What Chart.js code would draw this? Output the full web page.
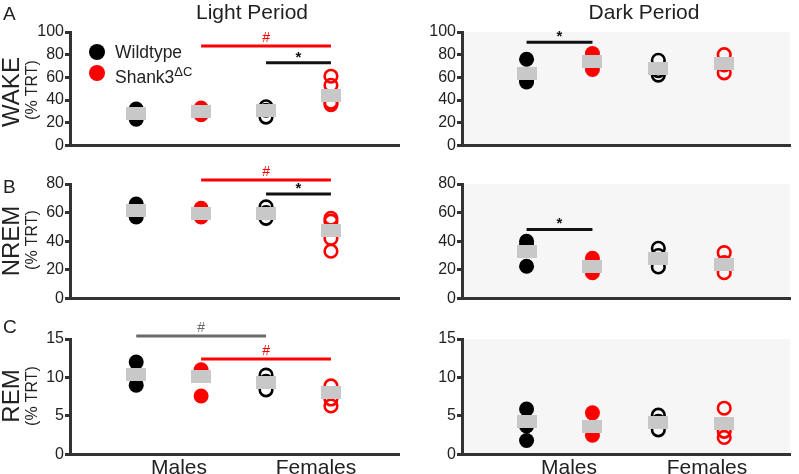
<!DOCTYPE html>
<html>
<head>
<meta charset="utf-8">
<script src="https://cdn.jsdelivr.net/npm/chart.js"></script>
<style>
  body { margin: 0; background: #fff; font-family: "Liberation Sans", Arial, sans-serif; color: #222; }
  #page { position: relative; width: 799px; height: 474px; overflow: hidden; }
  canvas { position: absolute; }
  .txt { position: absolute; white-space: nowrap; line-height: 1; }
  .rot { transform: translate(-50%, -50%) rotate(-90deg); }
  .dot { position: absolute; width: 16px; height: 16px; border-radius: 50%; }
</style>
</head>
<body>
<div id="page">
  <canvas id="lightWake" width="408" height="156" style="left:0;top:0"></canvas>
  <canvas id="darkWake" width="399" height="156" style="left:400px;top:0"></canvas>
  <canvas id="lightNrem" width="408" height="159" style="left:0;top:150px"></canvas>
  <canvas id="darkNrem" width="399" height="159" style="left:400px;top:150px"></canvas>
  <canvas id="lightRem" width="408" height="165" style="left:0;top:300px"></canvas>
  <canvas id="darkRem" width="399" height="165" style="left:400px;top:300px"></canvas>

  <div class="txt" style="left:252px;top:11px;font-size:21px;transform:translate(-50%,-50%)">Light Period</div>
  <div class="txt" style="left:644px;top:11px;font-size:21px;transform:translate(-50%,-50%)">Dark Period</div>

  <div class="txt" style="left:3px;top:4px;font-size:19px">A</div>
  <div class="txt" style="left:3px;top:177px;font-size:19px">B</div>
  <div class="txt" style="left:3px;top:317px;font-size:19px">C</div>

  <div class="txt rot" style="left:11px;top:92px;font-size:24px">WAKE</div>
  <div class="txt rot" style="left:32px;top:90px;font-size:16px">(% TRT)</div>
  <div class="txt rot" style="left:11px;top:241px;font-size:24px">NREM</div>
  <div class="txt rot" style="left:32px;top:240px;font-size:16px">(% TRT)</div>
  <div class="txt rot" style="left:11px;top:396px;font-size:24px">REM</div>
  <div class="txt rot" style="left:32px;top:396px;font-size:16px">(% TRT)</div>

  <div class="dot" style="left:89px;top:44px;background:#000"></div>
  <div class="txt" style="left:115px;top:44px;font-size:17.5px">Wildtype</div>
  <div class="dot" style="left:89px;top:65px;background:#ff0000"></div>
  <div class="txt" style="left:115px;top:65px;font-size:17.5px">Shank3<sup style="font-size:13px;vertical-align:7px">ΔC</sup></div>

  <div class="txt" style="left:179px;top:466px;font-size:21px;transform:translate(-50%,-50%)">Males</div>
  <div class="txt" style="left:316px;top:466px;font-size:21px;transform:translate(-50%,-50%)">Females</div>
  <div class="txt" style="left:569px;top:466px;font-size:21px;transform:translate(-50%,-50%)">Males</div>
  <div class="txt" style="left:707px;top:466px;font-size:21px;transform:translate(-50%,-50%)">Females</div>
</div>

<script>
// groups along x: male WT, male Shank3, female WT, female Shank3
const groupX = [1, 2, 3, 4];
const groupSex = ['M', 'M', 'F', 'F'];
const groupGeno = ['wt', 'mut', 'wt', 'mut'];

// individual animals, % of total recording time
const lightWake = [[32, 28, 23], [33, 30, 27], [34, 31, 25], [61, 53, 38, 36]];
const lightWakeMean = [28, 29.8, 30.5, 44];
const darkWake = [[76, 58, 56], [81, 74, 67], [75, 66, 62], [80, 71, 64]];
const darkWakeMean = [63, 73.7, 67.9, 72];

const lightNrem = [[66, 61, 57], [63, 60, 57], [64, 60, 56], [56, 54, 42, 33]];
const lightNremMean = [61.4, 59.6, 59.6, 47.7];
const darkNrem = [[40, 37, 22.5], [28, 22, 18], [35, 30, 22], [32, 25, 18]];
const darkNremMean = [32.8, 22.5, 28, 24];

const lightRem = [[12, 10.2, 9.0], [11, 10.3, 7.6], [10.3, 9.5, 8.4], [8.9, 7.2, 6.3]];
const lightRemMean = [10.4, 10.1, 9.4, 8.0];
const darkRem = [[5.9, 3.7, 1.8], [5.4, 3.2, 2.5], [5.1, 4.3, 3.2], [6.0, 3.0, 2.2]];
const darkRemMean = [4.3, 3.6, 4.1, 4.0];

// significance bars: [comparison, from group x, to group x, y value]
const lightWakeBars = [['mut', 2, 4, 87.6], ['geno', 3, 4, 72.8]];
const darkWakeBars = [['geno', 1, 2, 90.9]];
const lightNremBars = [['mut', 2, 4, 82.8], ['geno', 3, 4, 73]];
const darkNremBars = [['geno', 1, 2, 48.2]];
const lightRemBars = [['wt', 1, 3, 15.4], ['mut', 2, 4, 12.4]];
const darkRemBars = [];

const wakeTicks = [0, 20, 40, 60, 80, 100];
const nremTicks = [0, 20, 40, 60, 80];
const remTicks = [0, 5, 10, 15];

const RED = '#ff0000';
const AXIS = '#333';
const barColor = { wt: '#6b6b6b', mut: RED, geno: '#111' };
const barMark = { wt: '#', mut: '#', geno: '*' };

// grey mean marker
const meanMark = document.createElement('canvas');
meanMark.width = 20; meanMark.height = 13;
(function () {
  const c = meanMark.getContext('2d');
  c.fillStyle = '#c8c8c8';
  c.fillRect(0, 0, 20, 13);
})();

const panelBg = {
  id: 'panelBg',
  beforeDraw(chart, args, opts) {
    if (!opts.color) return;
    const a = chart.chartArea, ctx = chart.ctx;
    ctx.save();
    ctx.fillStyle = opts.color;
    ctx.fillRect(a.left, a.top, a.right - a.left, a.bottom - a.top);
    ctx.restore();
  }
};

const sigMarks = {
  id: 'sigMarks',
  afterDatasetsDraw(chart, args, opts) {
    const ctx = chart.ctx, xs = chart.scales.x, ys = chart.scales.y;
    ctx.save();
    ctx.textAlign = 'center';
    ctx.textBaseline = 'alphabetic';
    (opts.bars || []).forEach(b => {
      const mx = xs.getPixelForValue((b[1] + b[2]) / 2);
      const my = ys.getPixelForValue(b[3]);
      ctx.fillStyle = barColor[b[0]];
      if (barMark[b[0]] === '*') {
        ctx.font = 'bold 15px "Liberation Sans", Arial, sans-serif';
        ctx.fillText('*', mx, my - 1);
      } else {
        ctx.font = '14px "Liberation Sans", Arial, sans-serif';
        ctx.fillText('#', mx, my - 4);
      }
    });
    ctx.restore();
  }
};

function makePanel(id, side, values, means, bars, ticks) {
  const datasets = [];
  datasets.push({
    data: means.map((m, i) => ({ x: groupX[i], y: m })),
    pointStyle: meanMark,
    order: 0
  });
  values.forEach((vals, i) => {
    const col = groupGeno[i] === 'mut' ? RED : '#000';
    const open = groupSex[i] === 'F';
    datasets.push({
      data: vals.map(v => ({ x: groupX[i], y: v })),
      pointStyle: 'circle',
      pointRadius: open ? 6.3 : 7.5,
      backgroundColor: open ? 'rgba(0,0,0,0)' : col,
      borderColor: col,
      borderWidth: open ? 2.6 : 0,
      order: 1
    });
  });
  bars.forEach(b => {
    datasets.push({
      data: [{ x: b[1], y: b[3] }, { x: b[2], y: b[3] }],
      showLine: true,
      pointRadius: 0,
      borderColor: barColor[b[0]],
      borderWidth: 3,
      clip: false,
      order: 2
    });
  });

  const left = side === 'light';
  const yMax = ticks[ticks.length - 1];
  const canvas = document.getElementById(id);
  const h = canvas.height;
  const topPad = { 156: 32, 159: 34, 165: 39 }[h];

  new Chart(canvas, {
    type: 'scatter',
    data: { datasets },
    plugins: [panelBg, sigMarks],
    options: {
      responsive: false,
      animation: false,
      events: [],
      layout: { padding: { top: topPad, bottom: 10, left: 0, right: left ? 0 : 2 } },
      plugins: {
        legend: { display: false },
        tooltip: { enabled: false },
        panelBg: { color: left ? null : '#f6f6f6' },
        sigMarks: { bars }
      },
      scales: {
        x: {
          type: 'linear',
          min: left ? -0.02 : 0.02,
          max: left ? 5.05 : 5.0,
          grid: { display: false },
          ticks: { display: false },
          border: { color: AXIS, width: 3 },
          afterFit(s) { s.height = 0; }
        },
        y: {
          min: 0,
          max: yMax,
          afterBuildTicks(s) { s.ticks = ticks.map(v => ({ value: v })); },
          afterFit(s) { s.width = left ? 70 : 62; },
          grid: { drawOnChartArea: false, tickLength: 5, tickWidth: 3, tickColor: AXIS },
          border: { color: AXIS, width: 3 },
          ticks: {
            autoSkip: false,
            padding: 1,
            color: '#222',
            font: { family: '"Liberation Sans", Arial, sans-serif', size: 16 }
          }
        }
      }
    }
  });
}

makePanel('lightWake', 'light', lightWake, lightWakeMean, lightWakeBars, wakeTicks);
makePanel('darkWake', 'dark', darkWake, darkWakeMean, darkWakeBars, wakeTicks);
makePanel('lightNrem', 'light', lightNrem, lightNremMean, lightNremBars, nremTicks);
makePanel('darkNrem', 'dark', darkNrem, darkNremMean, darkNremBars, nremTicks);
makePanel('lightRem', 'light', lightRem, lightRemMean, lightRemBars, remTicks);
makePanel('darkRem', 'dark', darkRem, darkRemMean, darkRemBars, remTicks);
</script>
</body>
</html>
